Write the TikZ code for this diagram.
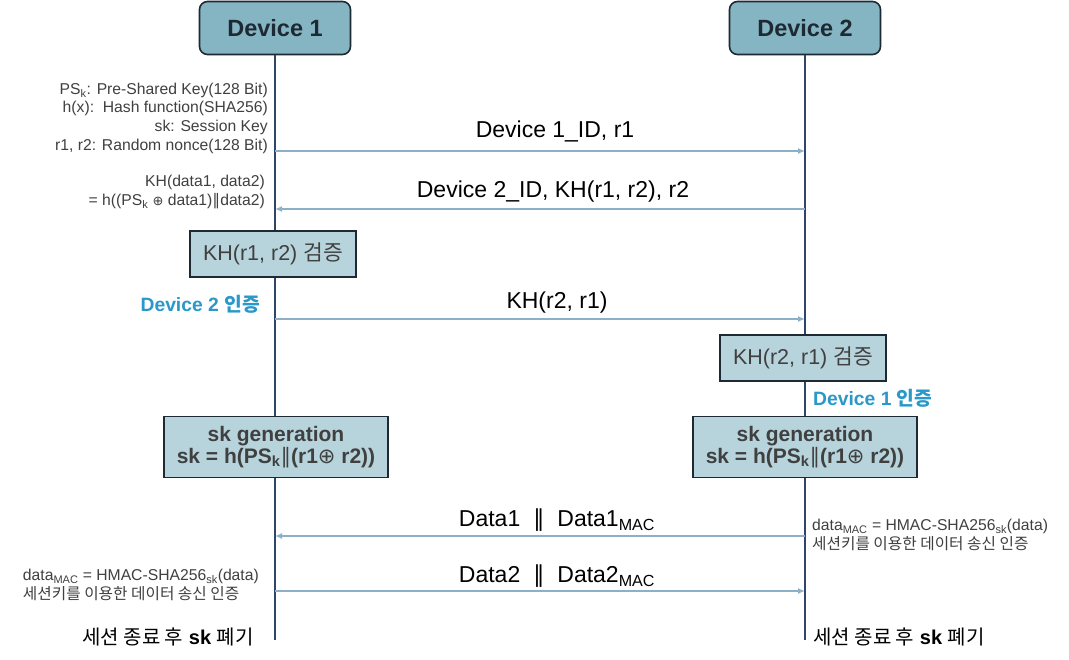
\documentclass[tikz,border=0pt]{standalone}
\usepackage{fontspec}
\setmainfont{Liberation Sans}
\newfontfamily\kr{Noto Sans CJK KR}
\newfontfamily\sym{DejaVu Sans}
\usetikzlibrary{arrows.meta}
\definecolor{lifec}{HTML}{2F4565}
\definecolor{arrc}{HTML}{8CB0C8}
\definecolor{devfill}{HTML}{85B5C3}
\definecolor{boxfill}{HTML}{B7D4DC}
\definecolor{edgec}{HTML}{1E2A33}
\definecolor{txtg}{HTML}{404040}
\definecolor{bluet}{HTML}{2A98C9}
\begin{document}
\begin{tikzpicture}[x=1pt,y=-1pt,
  dev/.style={draw=edgec, line width=1.6pt, fill=devfill, rounded corners=8pt,
    minimum width=151pt, minimum height=53pt, inner sep=0pt,
    font=\fontsize{23.5}{27}\selectfont\bfseries, text=edgec},
  life/.style={draw=lifec, line width=2.6pt},
  msg/.style={draw=arrc, line width=1.6pt, -{Latex[length=7pt,width=6pt]}},
  lbl/.style={font=\fontsize{23}{27}\selectfont, text=black, inner sep=0pt},
  chk/.style={draw=edgec, line width=1.3pt, fill=boxfill, minimum width=166pt,
    minimum height=46pt, inner sep=0pt, font=\fontsize{21.5}{25}\selectfont, text=txtg},
  gen/.style={draw=edgec, line width=1.3pt, fill=boxfill, minimum width=224pt,
    minimum height=61pt, inner sep=0pt, align=center,
    font=\fontsize{21}{22}\selectfont\bfseries, text=txtg},
  note/.style={font=\fontsize{15.7}{18.7}\selectfont, text=txtg, inner sep=0pt},
  auth/.style={font=\fontsize{19.3}{22}\selectfont\bfseries, text=bluet, inner sep=0pt},
  endl/.style={font=\fontsize{20}{24}\selectfont, text=black, inner sep=0pt}
]
\useasboundingbox (0,0) rectangle (1069,660);
\fill[white] (0,0) rectangle (1069,660);

% devices
\node[dev] (d1) at (275,28) {Device 1};
\node[dev] (d2) at (805,28) {Device 2};
\coordinate (e1) at (275,640);
\coordinate (e2) at (805,640);
\draw[life] (d1.south) -- (e1);
\draw[life] (d2.south) -- (e2);

% definitions
\node[note, anchor=east, align=right] (defs) at (268,118)
  {PS\textsubscript{k}: Pre-Shared Key(128 Bit)\\
   h(x):\ \ Hash function(SHA256)\\
   sk: Session Key\\
   r1, r2: Random nonce(128 Bit)};
\node[note, anchor=east, align=right] (khdef) at (265,192)
  {KH(data1, data2)\\
   = h((PS\textsubscript{k} {\sym\fontsize{13}{14}\selectfont ⊕} data1){\sym ∥}data2)};

% message 1
\coordinate (m1a) at (275,151);
\coordinate (m1b) at (805,151);
\draw[msg] (m1a) -- (m1b);
\node[lbl] (l1) at (555,131) {Device 1\_ID, r1};

% message 2
\coordinate (m2a) at (805,209);
\coordinate (m2b) at (275,209);
\draw[msg] (m2a) -- (m2b);
\node[lbl] (l2) at (553,192) {Device 2\_ID, KH(r1, r2), r2};

% check 1
\node[chk] (c1) at (273,254) {KH(r1, r2) {\kr 검증}};
\node[auth, anchor=east] (a2) at (260,304) {Device 2 {\kr 인증}};

% message 3
\coordinate (m3a) at (275,319);
\coordinate (m3b) at (805,319);
\draw[msg] (m3a) -- (m3b);
\node[lbl] (l3) at (557,303) {KH(r2, r1)};

% check 2
\node[chk] (c2) at (803,358) {KH(r2, r1) {\kr 검증}};
\node[auth, anchor=west] (a1) at (813,398) {Device 1 {\kr 인증}};

% sk generation
\node[gen] (g1) at (276,447) {sk generation\\sk = h(PS\textsubscript{k}{\sym\mdseries ∥}(r1{\sym\mdseries ⊕} r2))};
\node[gen] (g2) at (805,447) {sk generation\\sk = h(PS\textsubscript{k}{\sym\mdseries ∥}(r1{\sym\mdseries ⊕} r2))};

% message 4
\coordinate (m4a) at (805,536);
\coordinate (m4b) at (275,536);
\draw[msg] (m4a) -- (m4b);
\node[lbl] (l4) at (557,520) {Data1 \ {\sym ∥} \ Data1\textsubscript{MAC}};
\node[note, anchor=west, align=left] (n4) at (812,535)
  {data\textsubscript{MAC} = HMAC-SHA256\textsubscript{sk}(data)\\
   {\kr 세션키를 이용한 데이터 송신 인증}};

% message 5
\coordinate (m5a) at (275,591);
\coordinate (m5b) at (805,591);
\draw[msg] (m5a) -- (m5b);
\node[lbl] (l5) at (557,576) {Data2 \ {\sym ∥} \ Data2\textsubscript{MAC}};
\node[note, anchor=east, align=left] (n5) at (259,585)
  {data\textsubscript{MAC} = HMAC-SHA256\textsubscript{sk}(data)\\
   {\kr 세션키를 이용한 데이터 송신 인증}};

% end
\node[endl] (f1) at (168,637) {{\kr 세션 종료 후} \textbf{sk} {\kr 폐기}};
\node[endl] (f2) at (899,637) {{\kr 세션 종료 후} \textbf{sk} {\kr 폐기}};
\end{tikzpicture}
\end{document}
